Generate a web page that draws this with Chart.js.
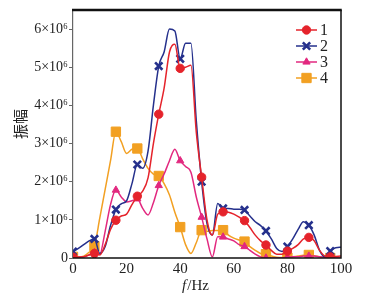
<!DOCTYPE html>
<html>
<head>
<meta charset="utf-8">
<script src="https://cdn.jsdelivr.net/npm/chart.js@4"></script>
<style>
  html, body { margin: 0; padding: 0; background: #fff; }
  #wrap { width: 381px; height: 297px; }
</style>
</head>
<body>
<div id="wrap"><canvas id="chart" width="381" height="297"></canvas></div>
<script>
// frequency axis (Hz), values in units of 10^6
const freq = [0,2,4,6,8,10,12,14,16,18,20,22,24,26,28,30,32,34,36,38,40,42,44,46,48,50,
              52,54,56,58,60,62,64,66,68,70,72,74,76,78,80,82,84,86,88,90,92,94,96,98,100];
const series1 = [0.02,0.02,0.03,0.08,0.12,0.08,0.35,0.75,0.99,1.1,1.15,1.4,1.62,1.75,2.1,3.0,3.77,4.45,5.4,5.6,4.97,5.0,5.05,3.3,2.12,1.0,
                 0.6,1.15,1.21,1.2,1.15,1.07,0.98,0.8,0.6,0.45,0.34,0.2,0.1,0.1,0.18,0.25,0.35,0.5,0.54,0.45,0.2,0.05,0.03,0.04,0.05];
const series2 = [0.17,0.25,0.35,0.45,0.5,0.12,0.3,0.85,1.27,1.42,1.5,1.95,2.45,2.35,2.8,4.0,5.03,5.4,6.0,5.95,5.22,5.63,5.63,3.6,2.0,0.9,
                 0.6,1.43,1.3,1.3,1.28,1.28,1.26,1.1,0.95,0.85,0.71,0.5,0.25,0.17,0.3,0.5,0.75,0.95,0.86,0.6,0.2,0.03,0.18,0.27,0.28];
const series3 = [0.02,0.02,0.03,0.08,0.14,0.1,0.7,1.4,1.78,1.6,1.47,1.5,1.55,1.3,1.13,1.45,1.9,2.2,2.55,2.85,2.55,2.4,2.25,1.6,1.07,0.5,
                 0.03,0.56,0.55,0.5,0.45,0.35,0.3,0.2,0.1,0.03,0,0,0,0,0.02,0.03,0.03,0.05,0.05,0.05,0.03,0.02,0.03,0.01,0];
const series4 = [0.03,0.03,0.05,0.15,0.31,1.05,1.8,2.55,3.31,3.05,2.74,2.85,2.87,2.6,2.35,2.2,2.15,1.95,1.65,1.2,0.81,0.35,0.12,0.4,0.73,0.7,
                 0.72,0.72,0.73,0.6,0.52,0.47,0.43,0.3,0.2,0.12,0.1,0.05,0.02,0.01,0.01,0.03,0.05,0.07,0.08,0.06,0.03,0.01,0,0,0];
const seriesNames = ['1', '2', '3', '4'];
const yTicks = [0, 1, 2, 3, 4, 5, 6];
const xTicks = [0, 20, 40, 60, 80, 100];

const serif = '"Liberation Serif", "DejaVu Serif", serif';

const styles = [
    { color: '#e5232b', pointStyle: 'circle', radius: 4.2, bw: 1 },
    { color: '#25308c', pointStyle: 'crossRot', radius: 5.2, bw: 2.6 },
    { color: '#e2287f', pointStyle: 'triangle', radius: 4.2, bw: 1 },
    { color: '#f2a022', pointStyle: 'rect', radius: 6.6, bw: 1 }
];

const allSeries = [series1, series2, series3, series4];

const datasets = allSeries.map((s, k) => ({
    label: seriesNames[k],
    data: freq.map((f, i) => ({ x: f, y: s[i] })),
    borderColor: styles[k].color,
    backgroundColor: styles[k].color,
    borderWidth: 1.5,
    cubicInterpolationMode: 'monotone',
    pointStyle: styles[k].pointStyle,
    pointBorderWidth: styles[k].bw,
    pointRadius: ctx => (freq[ctx.dataIndex] % 8 === 0 ? styles[k].radius : 0),
    pointHoverRadius: 0
}));

// frame, legend, axis titles
const decorations = {
    id: 'decorations',
    afterDraw(chart) {
        const ctx = chart.ctx;
        const a = chart.chartArea;
        ctx.save();
        ctx.strokeStyle = '#111';
        ctx.lineWidth = 1.5;
        ctx.beginPath();
        ctx.moveTo(a.left, a.bottom);
        ctx.lineTo(a.right, a.bottom);
        ctx.lineTo(a.right, a.top);
        ctx.stroke();
        ctx.lineWidth = 2.5;
        ctx.beginPath();
        ctx.moveTo(a.left - 1, a.top);
        ctx.lineTo(a.right + 0.75, a.top);
        ctx.stroke();

        // legend
        const lx = 296, ly = 30;
        styles.forEach((st, k) => {
            const y = ly + k * 16;
            ctx.strokeStyle = st.color;
            ctx.lineWidth = 1.5;
            ctx.beginPath();
            ctx.moveTo(lx, y);
            ctx.lineTo(lx + 21, y);
            ctx.stroke();
            ctx.fillStyle = st.color;
            ctx.lineWidth = st.bw;
            Chart.helpers.drawPoint(ctx, {
                pointStyle: st.pointStyle, radius: st.radius, rotation: 0, borderWidth: st.bw
            }, lx + 10.5, y);
            ctx.fillStyle = '#222';
            ctx.font = '16px ' + serif;
            ctx.textBaseline = 'middle';
            ctx.textAlign = 'left';
            ctx.fillText(seriesNames[k], lx + 24, y + 1);
        });

        // x title "f/Hz"
        const ty = 286;
        ctx.fillStyle = '#222';
        ctx.textBaseline = 'middle';
        ctx.textAlign = 'left';
        ctx.font = 'italic 15px ' + serif;
        const fw = ctx.measureText('f').width;
        ctx.font = '15px ' + serif;
        const rw = ctx.measureText('/Hz').width;
        const x0 = 195 - (fw + rw) / 2;
        ctx.font = 'italic 15px ' + serif;
        ctx.fillText('f', x0, ty);
        ctx.font = '15px ' + serif;
        ctx.fillText('/Hz', x0 + fw + 1, ty);

        // y title
        ctx.translate(20, 124);
        ctx.rotate(-Math.PI / 2);
        ctx.textAlign = 'center';
        ctx.font = '15px "Noto Sans CJK SC", sans-serif';
        ctx.fillText('振幅', 0, 0);
        ctx.restore();
    }
};

new Chart(document.getElementById('chart'), {
    type: 'line',
    data: { datasets: datasets },
    plugins: [decorations],
    options: {
        responsive: false,
        animation: false,
        devicePixelRatio: 1,
        layout: { padding: { left: 0, right: 40, top: 10, bottom: 4 } },
        plugins: { legend: { display: false }, tooltip: { enabled: false } },
        scales: {
            x: {
                type: 'linear',
                min: 0,
                max: 100,
                afterFit: s => { s.height = 35; },
                afterBuildTicks: s => { s.ticks = xTicks.map(v => ({ value: v })); },
                grid: { display: false, drawTicks: false },
                border: { display: false },
                ticks: { color: '#222', padding: 2, font: { family: serif, size: 15 } }
            },
            y: {
                min: 0,
                max: 6.5,
                afterFit: s => { s.width = 73; },
                afterBuildTicks: s => { s.ticks = yTicks.map(v => ({ value: v })); },
                grid: { drawOnChartArea: false, tickLength: 4, color: '#666', tickWidth: 1 },
                border: { display: true, color: '#666', width: 1.2 },
                ticks: {
                    color: '#222',
                    padding: 1,
                    font: { family: serif, size: 14 },
                    callback: v => (v === 0 ? '0' : v + '×10⁶')
                }
            }
        }
    }
});
</script>
</body>
</html>
